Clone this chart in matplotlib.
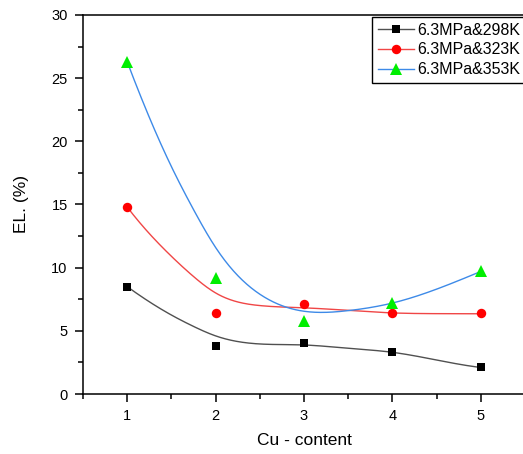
import numpy as np
import matplotlib
matplotlib.use("Agg")
import matplotlib.pyplot as plt
from matplotlib.lines import Line2D

# ---- data ----
cu = [1, 2, 3, 4, 5]
el_298 = [8.5, 3.77, 4.0, 3.3, 2.1]
el_323 = [14.8, 6.39, 7.1, 6.39, 6.39]
el_353 = [26.3, 9.2, 5.75, 7.2, 9.7]

# smoothed trend curves
curve_x = [1, 1.25, 1.5, 1.75, 2, 2.5, 3, 3.5, 4, 4.5, 5]
curve_298 = [8.5, 7.3, 6.25, 5.35, 4.6, 3.96, 3.88, 3.62, 3.3, 2.69, 2.1]
curve_323 = [14.8, 12.7, 10.9, 9.3, 8.0, 7.0, 6.82, 6.62, 6.42, 6.36, 6.35]
curve_353 = [26.3, 21.9, 18.0, 14.6, 11.6, 7.9, 6.55, 6.6, 7.2, 8.3, 9.7]

labels = ["6.3MPa&298K", "6.3MPa&323K", "6.3MPa&353K"]
x_ticks = [1, 2, 3, 4, 5]
y_ticks = [0, 5, 10, 15, 20, 25, 30]


def smooth_spline(x, y, n=400):
    """Cubic interpolating spline with not-a-knot end conditions."""
    x = np.asarray(x, float)
    y = np.asarray(y, float)
    m = len(x)
    h = np.diff(x)
    A = np.zeros((m, m))
    b = np.zeros(m)
    A[0, 0], A[0, 1], A[0, 2] = -h[1], h[0] + h[1], -h[0]
    A[-1, -3], A[-1, -2], A[-1, -1] = -h[-1], h[-2] + h[-1], -h[-2]
    for i in range(1, m - 1):
        A[i, i - 1] = h[i - 1]
        A[i, i] = 2 * (h[i - 1] + h[i])
        A[i, i + 1] = h[i]
        b[i] = 3 * ((y[i + 1] - y[i]) / h[i] - (y[i] - y[i - 1]) / h[i - 1])
    c = np.linalg.solve(A, b)
    xs = np.linspace(x[0], x[-1], n)
    ys = np.empty_like(xs)
    for k, xv in enumerate(xs):
        i = min(np.searchsorted(x, xv, side="right") - 1, m - 2)
        dx = xv - x[i]
        bi = (y[i + 1] - y[i]) / h[i] - h[i] * (2 * c[i] + c[i + 1]) / 3
        di = (c[i + 1] - c[i]) / (3 * h[i])
        ys[k] = y[i] + bi * dx + c[i] * dx ** 2 + di * dx ** 3
    return xs, ys


plt.rcParams["font.family"] = ["Liberation Sans", "DejaVu Sans"]

fig = plt.figure(figsize=(5.23, 4.54), dpi=100)
ax = fig.add_axes([83 / 523, 1 - 394 / 454, 442 / 523, 379 / 454])

line_cols = ["#505050", "#f04646", "#3d8ae8"]
mark_cols = ["#000000", "#ff0000", "#00ee00"]
markers = ["s", "o", "^"]
msizes = [6, 6.8, 8]
curves = [curve_298, curve_323, curve_353]
series = [el_298, el_323, el_353]

for cv, lc in zip(curves, line_cols):
    xs, ys = smooth_spline(curve_x, cv)
    ax.plot(xs, ys, color=lc, lw=1.0, zorder=2)

for s, mc, mk, ms in zip(series, mark_cols, markers, msizes):
    ax.plot(cu, s, linestyle="none", marker=mk, color=mc, ms=ms,
            markeredgewidth=0, zorder=3)

ax.set_xlim(0.5, 5.5)
ax.set_ylim(0, 30)
ax.set_xticks(x_ticks)
ax.set_yticks(y_ticks)
ax.set_xticks([0.5, 1.5, 2.5, 3.5, 4.5], minor=True)
ax.set_yticks([2.5, 7.5, 12.5, 17.5, 22.5, 27.5], minor=True)
ax.tick_params(which="major", direction="out", length=6, width=1.1,
               labelsize=10.5, colors="black", pad=5)
ax.tick_params(which="minor", direction="out", length=3.5, width=1.1)
for sp in ax.spines.values():
    sp.set_linewidth(1.1)

ax.set_xlabel("Cu - content", fontsize=12.5, labelpad=7)
ax.set_ylabel("EL. (%)", fontsize=12.5, labelpad=16)

handles = [Line2D([], [], color=lc, lw=1.0, marker=mk, markerfacecolor=mc,
                  markeredgewidth=0, ms=ms)
           for lc, mc, mk, ms in zip(line_cols, mark_cols, markers, msizes)]
leg = fig.legend(handles, labels, loc="upper left",
                 bbox_to_anchor=(372 / 523, 1 - 17 / 454),
                 fontsize=11.5, handlelength=2.3, handletextpad=0.2,
                 borderpad=0.35, labelspacing=0.3, borderaxespad=0,
                 fancybox=False, framealpha=1, edgecolor="black")
leg.get_frame().set_linewidth(1.0)

fig.savefig("out.png", dpi=100)
